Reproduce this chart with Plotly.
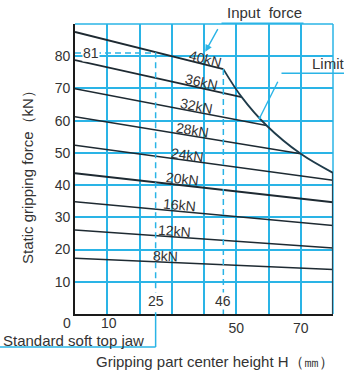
import math
import plotly.graph_objects as go

# ---------------- data ----------------
input_force_kN = [8, 12, 16, 20, 24, 28, 32, 36, 40]
line_start_force = [17.3, 26.1, 34.8, 43.7, 52.4, 61.2, 69.9, 78.8, 87.5]   # at H = 0
line_end_height = [80, 80, 80, 80, 80, 70, 59.4, 51.7, 46]
line_end_force = [13.8, 20.5, 27.5, 34.7, 41.5, 49.7, 58.5, 67.3, 76.0]

limit_height = [46, 51.7, 59.4, 70, 80]
limit_force = [76.0, 67.3, 58.5, 49.7, 43.8]

std_jaw_height = 25
std_jaw_force = 81
max_height_at_40 = 46

x_tick_vals = [0, 10, 20, 30, 40, 50, 60, 70, 80]
x_tick_text = ["", "", "", "", "", "50", "", "70", ""]
x_low_labels = [0, 10]          # labels placed just above the jaw caption
y_tick_vals = [0, 10, 20, 30, 40, 50, 60, 70, 80, 90]
y_tick_text = ["", "10", "20", "30", "40", "50", "60", "70", "80", ""]

# label x positions (mm) along each line
label_height = [28.2, 31.0, 32.5, 33.4, 35.0, 36.5, 37.8, 39.3, 40.6]

# ---------------- style ----------------
GRID = "#2ab4e6"
DARK = "#1e2a32"
TXT = "#333333"
FONT = "Liberation Sans, Arial, Helvetica, sans-serif"

fig = go.Figure()

widths = {40: 2.0, 36: 1.8, 20: 2.0}
for f, y0, xe, ye in zip(input_force_kN, line_start_force, line_end_height, line_end_force):
    fig.add_trace(go.Scatter(x=[0, xe], y=[y0, ye], mode="lines",
                             line=dict(color=DARK, width=widths.get(f, 1.5)),
                             hoverinfo="skip", showlegend=False))

# limit curve
fig.add_trace(go.Scatter(x=limit_height, y=limit_force, mode="lines",
                         line=dict(color="#1f3b4a", width=1.8, shape="spline", smoothing=1.0),
                         hoverinfo="skip", showlegend=False, cliponaxis=False))
# right edge below limit end
fig.add_trace(go.Scatter(x=[limit_height[-1], limit_height[-1]], y=[0, limit_force[-1]],
                         mode="lines", line=dict(color="#2a4858", width=2.2),
                         hoverinfo="skip", showlegend=False, cliponaxis=False))

# dashed reference lines
fig.add_trace(go.Scatter(x=[0, std_jaw_height, std_jaw_height], y=[std_jaw_force, std_jaw_force, 0],
                         mode="lines", line=dict(color=GRID, width=1.5, dash="6px,4px"),
                         hoverinfo="skip", showlegend=False))
fig.add_trace(go.Scatter(x=[max_height_at_40, max_height_at_40], y=[limit_force[0], 0],
                         mode="lines", line=dict(color=GRID, width=1.5, dash="6px,4px"),
                         hoverinfo="skip", showlegend=False))

# plot geometry (pixels) for paper conversions
W, H = 344, 374
ML, MR, MT, MB = 75, 11, 24, 60
PW, PH = W - ML - MR, H - MT - MB


def px(xp):
    return (xp - ML) / PW


def py(yp):
    return (H - MB - yp) / PH


shapes = [
    dict(type="line", xref="paper", yref="paper", x0=0, x1=1, y0=1, y1=1,
         line=dict(color=GRID, width=1.5), layer="below"),
    dict(type="line", xref="paper", yref="paper", x0=1, x1=1, y0=0, y1=1,
         line=dict(color=GRID, width=1.5), layer="below"),
    dict(type="line", xref="paper", yref="paper",
         x0=std_jaw_height / 80, x1=std_jaw_height / 80, y0=0, y1=py(347),
         line=dict(color=GRID, width=1.5)),
    dict(type="line", xref="paper", yref="paper",
         x0=px(0), x1=std_jaw_height / 80, y0=py(347), y1=py(347),
         line=dict(color=GRID, width=1.5)),
    dict(type="line", xref="paper", yref="paper", x0=px(221.5), x1=px(303.5),
         y0=py(23.3), y1=py(23.3), line=dict(color=GRID, width=1.5)),
    dict(type="line", xref="paper", yref="paper", x0=px(281.5), x1=px(344),
         y0=py(73.3), y1=py(73.3), line=dict(color=GRID, width=1.5)),
]


def txt(**kw):
    d = dict(showarrow=False, xanchor="center", yanchor="middle",
             font=dict(size=14, color=TXT, family=FONT))
    d.update(kw)
    return d


ann = []
for f, y0, xe, ye, lx in zip(input_force_kN, line_start_force, line_end_height,
                             line_end_force, label_height):
    slope = (ye - y0) / xe
    ly = y0 + slope * lx
    ang = math.degrees(math.atan(-slope * (PH / 90) / (PW / 80)))
    ann.append(txt(x=lx, y=ly, text=f"{f}kN", textangle=ang, yshift=6))

# callout arrows
ann.append(dict(x=40.4, y=81.4, text=" ", showarrow=True, ax=16, ay=-29,
                arrowhead=2, arrowsize=1, arrowwidth=1.4, arrowcolor=GRID))
ann.append(dict(x=57.3, y=60.9, text=" ", showarrow=True, ax=21.5, ay=-43,
                arrowhead=6, arrowsize=0.5, arrowwidth=1.4, arrowcolor=GRID))
ann.append(txt(xref="paper", yref="paper", x=px(264), y=py(12.5), text="Input  force",
               font=dict(size=15, color=TXT, family=FONT)))
ann.append(txt(xref="paper", yref="paper", x=px(310), y=py(63), xanchor="left", text="Limit",
               font=dict(size=15, color=TXT, family=FONT)))

# reference labels
ann.append(txt(x=0, y=std_jaw_force, text=str(std_jaw_force), xshift=16,
               bgcolor="white", borderpad=0))
ann.append(txt(x=std_jaw_height, y=0, text=str(std_jaw_height), yshift=13,
               bgcolor="white", borderpad=0))
ann.append(txt(x=max_height_at_40, y=0, text=str(max_height_at_40), yshift=13,
               bgcolor="white", borderpad=0))
for v in x_low_labels:
    ann.append(txt(x=v, y=0, text=str(v), xshift=-8 if v == 0 else 2, yshift=-9))
ann.append(txt(xref="paper", yref="paper", x=px(1), y=py(340), xanchor="left",
               text="Standard soft top jaw", font=dict(size=15, color=TXT, family=FONT)))

# axis titles
ann.append(txt(xref="paper", yref="paper", x=px(28), y=py(174), textangle=-90,
               text="Static gripping force（kN）", font=dict(size=15, color=TXT, family=FONT)))
ann.append(txt(xref="paper", yref="paper", x=px(215), y=py(362),
               text="Gripping part center height H（㎜）", font=dict(size=15, color=TXT, family=FONT)))

fig.update_layout(
    width=W, height=H,
    margin=dict(l=ML, r=MR, t=MT, b=MB),
    paper_bgcolor="white", plot_bgcolor="white",
    showlegend=False,
    font=dict(family=FONT, size=14, color=TXT),
    shapes=shapes, annotations=ann,
    xaxis=dict(range=[0, 80], tickvals=x_tick_vals, ticktext=x_tick_text,
               showgrid=True, gridcolor=GRID, gridwidth=1.5, zeroline=False,
               showline=True, linecolor="#1a1a1a", linewidth=1.6, ticks="",
               tickfont=dict(size=14, color=TXT, family=FONT), fixedrange=True),
    yaxis=dict(range=[0, 90], tickvals=y_tick_vals, ticktext=y_tick_text,
               showgrid=True, gridcolor=GRID, gridwidth=1.5, zeroline=False,
               showline=True, linecolor="#1a1a1a", linewidth=1.6, ticks="",
               tickfont=dict(size=14, color=TXT, family=FONT), fixedrange=True),
)

fig.write_html("out.html", config={"displayModeBar": False},
               post_script="document.body.style.margin='0';document.body.style.padding='0';")
